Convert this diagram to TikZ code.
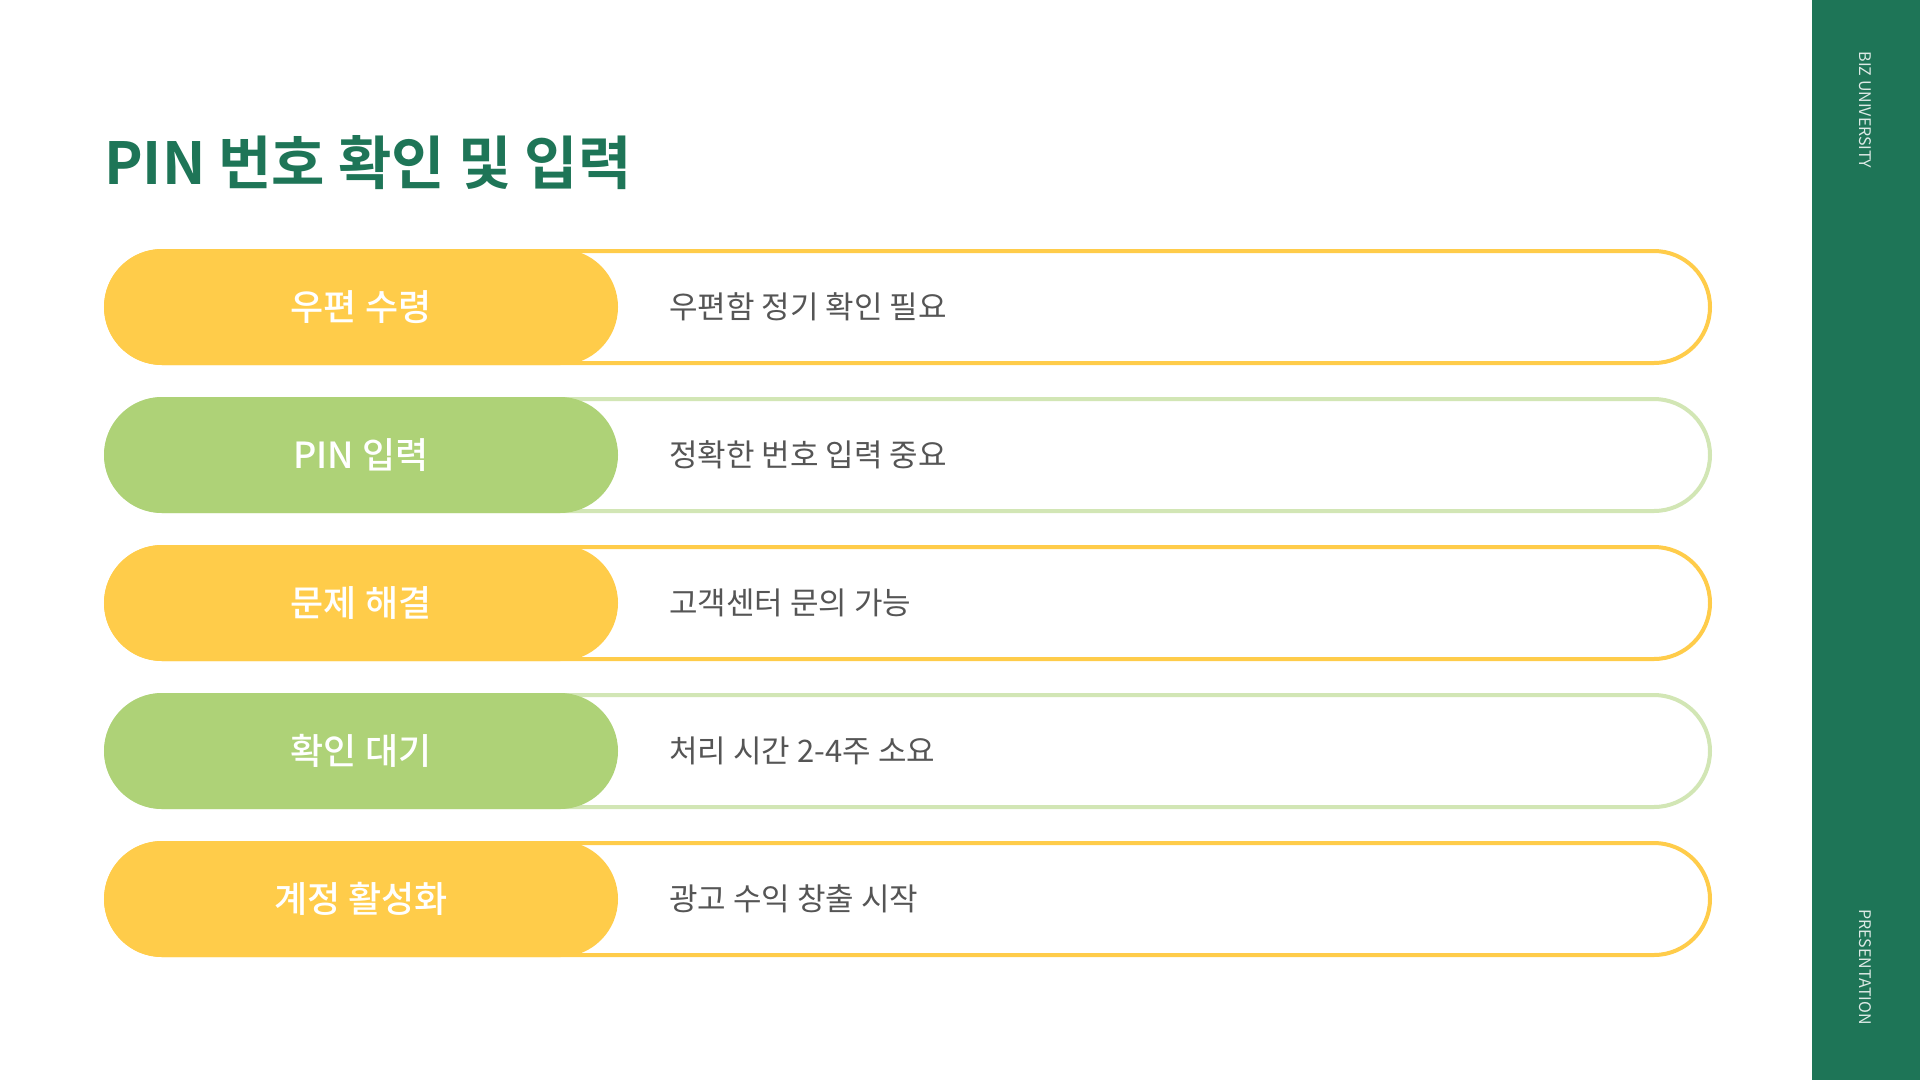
\documentclass[tikz,border=0pt]{standalone}
\usepackage{fontspec}
\setmainfont{Noto Sans CJK KR}[BoldFont={Noto Sans CJK KR Bold}]
\newfontfamily\mediumfont{Noto Sans CJK KR Medium}
\usepackage{xcolor}
\usepackage{tikz}
\usetikzlibrary{positioning}

\definecolor{bizgreen}{HTML}{1E7557}
\definecolor{pinyellow}{HTML}{FFCC4A}
\definecolor{pingreen}{HTML}{AED277}
\definecolor{pinpalegreen}{HTML}{D2E6B5}
\definecolor{desctext}{HTML}{555555}

\tikzset{
  rowpill/.style={minimum width=1604pt, minimum height=112pt, rounded corners=56pt, line width=4pt, fill=white, inner sep=0pt},
  labelpill/.style={minimum width=514pt, minimum height=116pt, rounded corners=58pt, inner sep=0pt, text=white, font=\fontsize{36}{42}\selectfont\mediumfont},
  desc/.style={inner sep=0pt, text=desctext, font=\fontsize{31}{37}\selectfont},
  sidetext/.style={rotate=-90, inner sep=0pt, text=white!85!bizgreen, font=\fontsize{16}{18}\selectfont},
}

\begin{document}
\begin{tikzpicture}[x=1pt, y=-1pt]
\useasboundingbox (0,0) rectangle (1920,1080);
\fill[bizgreen] (1812,0) rectangle (1920,1080);
\node[sidetext] (biz) at (1865,110) {BIZ UNIVERSITY};
\node[sidetext] (pres) at (1865,967) {PRESENTATION};

\node[anchor=base west, inner sep=0pt, text=bizgreen, font=\fontsize{58}{64}\selectfont\bfseries] (title) at (104,184) {PIN 번호 확인 및 입력};

\node[rowpill, draw=pinyellow] (row1) at (908,307) {};
\node[labelpill, fill=pinyellow] (lab1) at (361,307) {우편 수령};
\node[desc, right=51pt of lab1] (desc1) {우편함 정기 확인 필요};

\node[rowpill, draw=pinpalegreen] (row2) at (908,455) {};
\node[labelpill, fill=pingreen] (lab2) at (361,455) {PIN 입력};
\node[desc, right=51pt of lab2] (desc2) {정확한 번호 입력 중요};

\node[rowpill, draw=pinyellow] (row3) at (908,603) {};
\node[labelpill, fill=pinyellow] (lab3) at (361,603) {문제 해결};
\node[desc, right=51pt of lab3] (desc3) {고객센터 문의 가능};

\node[rowpill, draw=pinpalegreen] (row4) at (908,751) {};
\node[labelpill, fill=pingreen] (lab4) at (361,751) {확인 대기};
\node[desc, right=51pt of lab4] (desc4) {처리 시간 2-4주 소요};

\node[rowpill, draw=pinyellow] (row5) at (908,899) {};
\node[labelpill, fill=pinyellow] (lab5) at (361,899) {계정 활성화};
\node[desc, right=51pt of lab5] (desc5) {광고 수익 창출 시작};
\end{tikzpicture}
\end{document}
